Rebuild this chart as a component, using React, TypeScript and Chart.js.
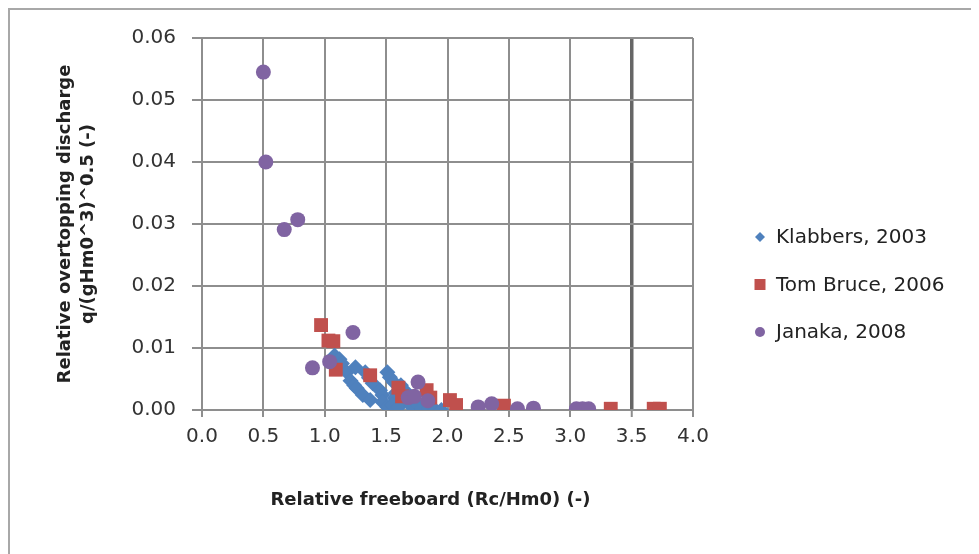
import { useEffect, useRef } from "react";
import { Chart, registerables } from "chart.js";

Chart.register(...registerables);

// Relative freeboard Rc/Hm0 (-) against relative overtopping discharge q/sqrt(g*Hm0^3) (-)
const klabbersX = [1.08, 1.12, 1.14, 1.18, 1.21, 1.24, 1.26, 1.31, 1.37, 1.25, 1.33, 1.36, 1.39, 1.45, 1.47, 1.47, 1.51, 1.53, 1.56, 1.58, 1.57, 1.62, 1.63, 1.51, 1.55, 1.6, 1.65, 1.68, 1.71, 1.75, 1.79, 1.85, 1.9, 1.95];
const klabbersY = [0.0088, 0.0082, 0.0075, 0.0061, 0.0047, 0.004, 0.0035, 0.0024, 0.0016, 0.0069, 0.0061, 0.0052, 0.0043, 0.0032, 0.0024, 0.0013, 0.0061, 0.0053, 0.0045, 0.0028, 0.0019, 0.004, 0.0011, 0.0005, 0.0008, 0.0005, 0.0032, 0.0016, 0.0005, 0.001, 0.0003, 0.0002, 0.0, 0.0];

const bruceX = [0.97, 1.03, 1.07, 1.09, 1.37, 1.6, 1.63, 1.83, 1.86, 2.02, 2.07, 2.46, 3.33, 3.68, 3.73];
const bruceY = [0.0137, 0.0112, 0.0111, 0.0065, 0.0056, 0.0036, 0.0022, 0.0032, 0.002, 0.0016, 0.0008, 0.0007, 0.0002, 0.0002, 0.0002];

const janakaX = [0.5, 0.52, 0.67, 0.78, 0.9, 1.04, 1.23, 1.68, 1.73, 1.76, 1.84, 2.25, 2.36, 2.57, 2.7, 3.05, 3.1, 3.15];
const janakaY = [0.0545, 0.04, 0.0291, 0.0307, 0.0068, 0.0078, 0.0125, 0.002, 0.0022, 0.0045, 0.0015, 0.0005, 0.001, 0.0002, 0.0003, 0.0002, 0.0002, 0.0002];

const seriesNames = ["Klabbers, 2003", "Tom Bruce, 2006", "Janaka, 2008"];
const seriesColors = ["#4F81BD", "#C0504D", "#8064A2"];

const xTitle = "Relative freeboard (Rc/Hm0) (-)";
const yTitle = ["Relative overtopping discharge", "q/(gHm0^3)^0.5 (-)"];

const xMin = 0;
const xMax = 4;
const xStep = 0.5;
const yMin = 0;
const yMax = 0.06;
const yStep = 0.01;
const markedX = 3.5;

const pair = (xs: number[], ys: number[]) => xs.map((x, i) => ({ x, y: ys[i] }));

const FONT = "'DejaVu Sans', Verdana, sans-serif";
const GRID = "#8e8e8e";

// Legend drawn to the right of the plot area
const sideLegend = {
  id: "sideLegend",
  afterDraw(chart: any) {
    const { ctx, chartArea } = chart;
    const markerX = chartArea.right + 67;
    const textX = chartArea.right + 83;
    const firstY = 227;
    const gap = 47.5;
    ctx.save();
    ctx.font = `20px ${FONT}`;
    ctx.textBaseline = "middle";
    ctx.textAlign = "left";
    chart.data.datasets.forEach((ds: any, i: number) => {
      const y = firstY + i * gap;
      ctx.fillStyle = ds.backgroundColor;
      ctx.beginPath();
      if (ds.pointStyle === "rectRot") {
        const r = 5;
        ctx.moveTo(markerX - r, y);
        ctx.lineTo(markerX, y - r);
        ctx.lineTo(markerX + r, y);
        ctx.lineTo(markerX, y + r);
        ctx.closePath();
      } else if (ds.pointStyle === "rect") {
        ctx.rect(markerX - 5.5, y - 5.5, 11, 11);
      } else {
        ctx.arc(markerX, y, 5, 0, Math.PI * 2);
      }
      ctx.fill();
      ctx.fillStyle = "#222";
      ctx.fillText(ds.label, textX, y + 1);
    });
    ctx.restore();
  },
};

// Horizontal axis title
const bottomTitle = {
  id: "bottomTitle",
  afterDraw(chart: any) {
    const { ctx, chartArea } = chart;
    ctx.save();
    ctx.font = `bold 18px ${FONT}`;
    ctx.fillStyle = "#222";
    ctx.textAlign = "center";
    ctx.textBaseline = "middle";
    ctx.fillText(xTitle, (chartArea.left + chartArea.right) / 2 - 17, 490);
    ctx.restore();
  },
};

export default function App() {
  const canvasRef = useRef<HTMLCanvasElement | null>(null);

  useEffect(() => {
    const canvas = canvasRef.current;
    if (!canvas) return;
    const chart = new Chart(canvas, {
      type: "scatter",
      data: {
        datasets: [
          {
            label: seriesNames[0],
            data: pair(klabbersX, klabbersY),
            backgroundColor: seriesColors[0],
            borderColor: seriesColors[0],
            pointStyle: "rectRot",
            pointRadius: 8,
            pointBorderWidth: 0,
            order: 3,
          },
          {
            label: seriesNames[1],
            data: pair(bruceX, bruceY),
            backgroundColor: seriesColors[1],
            borderColor: seriesColors[1],
            pointStyle: "rect",
            pointRadius: 9.8,
            pointBorderWidth: 0,
            order: 2,
          },
          {
            label: seriesNames[2],
            data: pair(janakaX, janakaY),
            backgroundColor: seriesColors[2],
            borderColor: seriesColors[2],
            pointStyle: "circle",
            pointRadius: 7.5,
            pointBorderWidth: 0,
            order: 1,
          },
        ],
      },
      options: {
        animation: false,
        responsive: false,
        layout: { padding: { top: 27, right: 286, bottom: 0, left: 0 } },
        plugins: {
          legend: { display: false },
          tooltip: { enabled: false },
        },
        scales: {
          x: {
            type: "linear",
            min: xMin,
            max: xMax,
            afterFit: (scale: any) => {
              scale.height = 144;
            },
            ticks: {
              stepSize: xStep,
              color: "#333",
              font: { family: FONT, size: 20 },
              padding: 8,
              maxRotation: 0,
              callback: (v: any) => Number(v).toFixed(1),
            },
            grid: {
              color: (c: any) => (c.tick && Math.abs(c.tick.value - markedX) < 1e-9 ? "#666" : GRID),
              lineWidth: (c: any) => (c.tick && Math.abs(c.tick.value - markedX) < 1e-9 ? 3.5 : 2),
              tickLength: 7,
              tickColor: GRID,
              tickWidth: 2,
            },
            border: { color: GRID, width: 2 },
          },
          y: {
            type: "linear",
            min: yMin,
            max: yMax,
            afterFit: (scale: any) => {
              scale.width = 192;
            },
            ticks: {
              stepSize: yStep,
              color: "#333",
              font: { family: FONT, size: 20 },
              padding: 16,
              callback: (v: any) => Number(v).toFixed(2),
            },
            grid: {
              color: GRID,
              lineWidth: 2,
              tickLength: 10,
              tickColor: GRID,
              tickWidth: 2,
            },
            border: { color: GRID, width: 2 },
            title: {
              display: true,
              text: yTitle,
              color: "#222",
              font: { family: FONT, size: 18, weight: "bold", lineHeight: 1.28 },
              padding: { top: 43.5, bottom: 0 },
            },
          },
        },
      },
      plugins: [sideLegend, bottomTitle],
    });
    return () => chart.destroy();
  }, []);

  return (
    <div
      style={{
        width: 969,
        height: 544,
        borderTop: "2px solid #a8a8a8",
        borderLeft: "2px solid #a8a8a8",
        overflow: "hidden",
        background: "#fff",
      }}
    >
      <canvas ref={canvasRef} width={969} height={544} style={{ display: "block" }} />
    </div>
  );
}
